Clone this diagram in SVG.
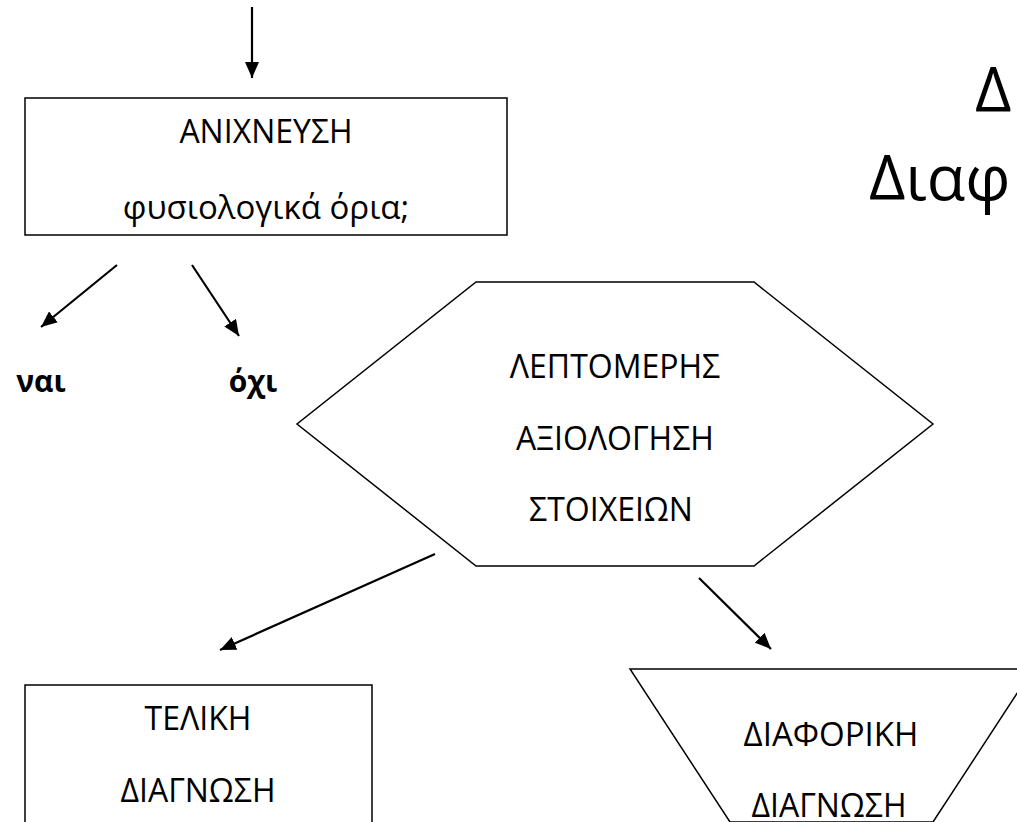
<svg xmlns="http://www.w3.org/2000/svg" width="1017" height="822" viewBox="0 0 1017 822">
<defs>
<marker id="ah" markerWidth="16" markerHeight="14" refX="16" refY="7" orient="auto" markerUnits="userSpaceOnUse">
<path d="M0,0 L16,7 L0,14 Z" fill="#000"/>
</marker>
<style>
.shape{fill:#fff;stroke:#000;stroke-width:1.5}
.t{font-family:"Open Sans","Liberation Sans",sans-serif;fill:#000;text-anchor:middle}
.s32{font-size:32px}
.s33{font-size:33px}
.b{font-weight:bold;font-size:30px}
.title{font-family:"Open Sans","Liberation Sans",sans-serif;font-size:63px;fill:#000}
.conn line{stroke:#000;stroke-width:2.2;marker-end:url(#ah)}
</style>
</defs>
<rect width="1017" height="822" fill="#fff"/>
<g id="title">
<text class="title" x="975" y="112">Δ</text>
<text class="title" x="869" y="200">Διαφ</text>
</g>
<g id="node-anixneusi">
<rect class="shape" x="25" y="98" width="482" height="137"/>
<text class="t s32" x="266" y="143">ΑΝΙΧΝΕΥΣΗ</text>
<text class="t s33" x="266" y="219">φυσιολογικά όρια;</text>
</g>
<g id="label-nai">
<text class="t b" x="41" y="392">ναι</text>
</g>
<g id="label-oxi">
<text class="t b" x="253" y="392">όχι</text>
</g>
<g id="node-leptomeris">
<polygon class="shape" points="476,282 754,282 933,424 754,566 476,566 297,424"/>
<text class="t s32" x="615" y="378">ΛΕΠΤΟΜΕΡΗΣ</text>
<text class="t s32" x="615" y="450">ΑΞΙΟΛΟΓΗΣΗ</text>
<text class="t s32" x="611" y="521">ΣΤΟΙΧΕΙΩΝ</text>
</g>
<g id="node-teliki">
<rect class="shape" x="25" y="685" width="347" height="160"/>
<text class="t s32" x="198" y="730">ΤΕΛΙΚΗ</text>
<text class="t s32" x="198" y="802">ΔΙΑΓΝΩΣΗ</text>
</g>
<g id="node-diaforiki">
<polygon class="shape" points="630,669 1033,669 933,822 730,822"/>
<text class="t s33" x="831" y="746">ΔΙΑΦΟΡΙΚΗ</text>
<text class="t s32" x="829" y="817">ΔΙΑΓΝΩΣΗ</text>
</g>
<g id="connectors" class="conn">
<line x1="252" y1="7" x2="252" y2="78"/>
<line x1="117" y1="265" x2="41" y2="327"/>
<line x1="192" y1="265" x2="239" y2="336"/>
<line x1="435" y1="554" x2="220" y2="650"/>
<line x1="699" y1="578" x2="771" y2="649"/>
</g>
</svg>
